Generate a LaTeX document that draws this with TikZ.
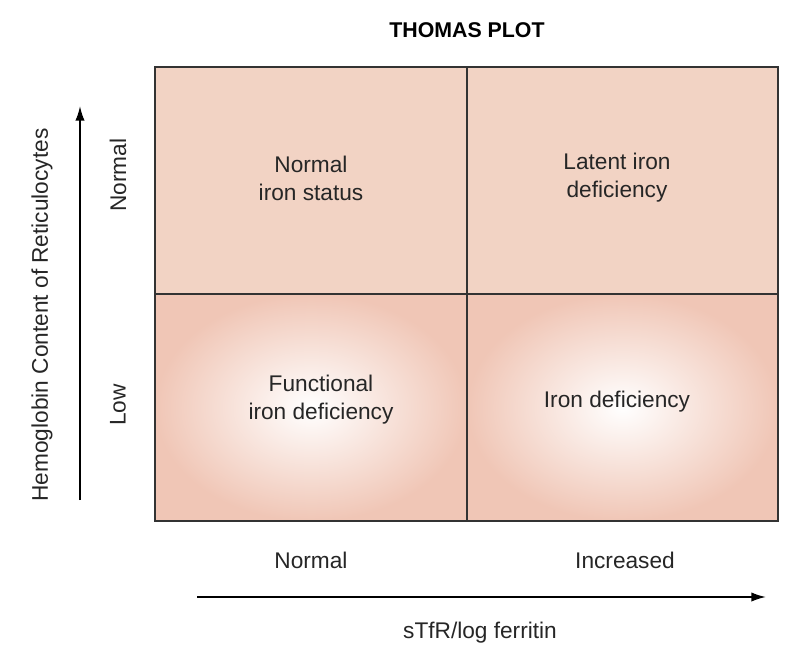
\documentclass[tikz,border=0pt]{standalone}
\usepackage{fontspec}
\setmainfont{Liberation Sans}
\usetikzlibrary{arrows.meta}
\begin{document}
\begin{tikzpicture}[x=0.75pt,y=-0.75pt,
  lbl/.style={font=\fontsize{17}{21}\selectfont,align=center,text=black!85},
  ax/.style={line width=1.3pt,-{Latex[length=11pt,width=7pt]}}]
\definecolor{top}{HTML}{F2D3C4}
\definecolor{edge}{HTML}{F0C6B6}
\useasboundingbox (0,0) rectangle (804,658);
\fill[top] (155,67) rectangle (778,294);
\shade[inner color=white,outer color=edge] (155,294) rectangle (467,521);
\shade[inner color=white,outer color=edge] (467,294) rectangle (778,521);
\draw[line width=1.3pt,black!80] (155,67) rectangle (778,521);
\draw[line width=1.3pt,black!80] (467,67) -- (467,521) (155,294) -- (778,294);
\node[font=\bfseries\fontsize{16}{19}\selectfont] (title) at (467,30) {THOMAS PLOT};
\node[lbl] (c1) at (311,178) {Normal\\iron status};
\node[lbl] (c2) at (617,178) {Latent iron\\deficiency};
\node[lbl] (c3) at (321,400) {Functional\\iron deficiency};
\node[lbl] (c4) at (617,402) {Iron deficiency};
\node[lbl,rotate=90] (yl) at (42,315) {Hemoglobin Content of Reticulocytes};
\node[lbl,rotate=90] (yn) at (118,175) {Normal};
\node[lbl,rotate=90] (ylow) at (118,405) {Low};
\node[lbl] (xn) at (311,560) {Normal};
\node[lbl] (xi) at (625,560) {Increased};
\node[lbl] (xl) at (480,633) {sTfR/log ferritin};
\coordinate (ya) at (80,500); \coordinate (yb) at (80,106);
\coordinate (xa) at (197,597); \coordinate (xb) at (766,597);
\draw[ax] (ya) -- (yb);
\draw[ax] (xa) -- (xb);
\end{tikzpicture}
\end{document}
